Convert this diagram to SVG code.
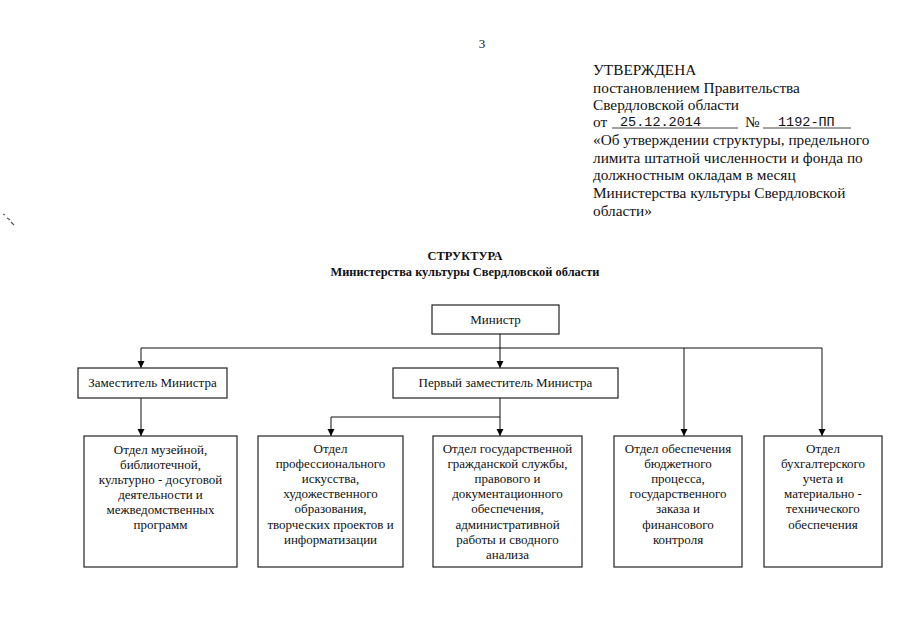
<svg xmlns="http://www.w3.org/2000/svg" width="905" height="640" viewBox="0 0 905 640">
<defs>
<marker id="arr" markerWidth="8" markerHeight="8" refX="7" refY="3.5" orient="auto" markerUnits="userSpaceOnUse">
<path d="M0,0 L7,3.5 L0,7 Z" fill="#000"/>
</marker>
<style>
text{font-family:"Liberation Serif","Times New Roman",serif;fill:#111}
.hdr{font-size:15.3px}
.mono{font-family:"Liberation Mono","Courier New",monospace;font-size:13.5px}
.ttl{font-size:12.4px;font-weight:bold;text-anchor:middle}
.bt{font-size:13px;text-anchor:middle}
.box{fill:#fff;stroke:#222;stroke-width:1.2}
.ln{fill:none;stroke:#111;stroke-width:1}
.ul{stroke:#444;stroke-width:1}
</style>
</defs>
<rect width="905" height="640" fill="#fff"/>
<text x="482" y="48" style="font-size:13px" text-anchor="middle">3</text>
<path d="M3,214 l2,1 M7,218 l3,2 M11,222 l3,3" stroke="#555" stroke-width="1.2"/>
<g id="header">
<text class="hdr" x="593" y="75">УТВЕРЖДЕНА</text>
<text class="hdr" x="593" y="93">постановлением Правительства</text>
<text class="hdr" x="593" y="110">Свердловской области</text>
<text class="hdr" x="593" y="127">от</text>
<line class="ul" x1="612" y1="128" x2="738" y2="128"/>
<text class="mono" x="620" y="126">25.12.2014</text>
<text class="hdr" x="745" y="127">№</text>
<line class="ul" x1="763" y1="128" x2="851" y2="128"/>
<text class="mono" x="778" y="126">1192-ПП</text>
<text class="hdr" x="593" y="145">«Об утверждении структуры, предельного</text>
<text class="hdr" x="593" y="163">лимита штатной численности и фонда по</text>
<text class="hdr" x="593" y="180">должностным окладам в месяц</text>
<text class="hdr" x="593" y="198">Министерства культуры Свердловской</text>
<text class="hdr" x="593" y="216">области»</text>
</g>
<g id="title">
<text class="ttl" x="465" y="260">СТРУКТУРА</text>
<text class="ttl" x="465" y="276">Министерства культуры Свердловской области</text>
</g>
<g id="connectors">
<polyline class="ln" points="500,334 500,348"/>
<polyline class="ln" points="141,348 822,348"/>
<line class="ln" x1="141" y1="348" x2="141" y2="368" marker-end="url(#arr)"/>
<line class="ln" x1="500" y1="348" x2="500" y2="368" marker-end="url(#arr)"/>
<line class="ln" x1="684" y1="348" x2="684" y2="436" marker-end="url(#arr)"/>
<line class="ln" x1="822" y1="348" x2="822" y2="436" marker-end="url(#arr)"/>
<line class="ln" x1="141" y1="398" x2="141" y2="436" marker-end="url(#arr)"/>
<polyline class="ln" points="500,398 500,417 331,417"/>
<line class="ln" x1="500" y1="417" x2="500" y2="436" marker-end="url(#arr)"/>
<line class="ln" x1="331" y1="417" x2="331" y2="436" marker-end="url(#arr)"/>
</g>
<g id="minister">
<rect class="box" x="432" y="305" width="127" height="29"/>
<text class="bt" x="495.5" y="324">Министр</text>
</g>
<g id="deputy">
<rect class="box" x="78" y="368" width="149" height="30"/>
<text class="bt" x="152.5" y="387">Заместитель Министра</text>
</g>
<g id="first-deputy">
<rect class="box" x="393" y="368" width="225" height="30"/>
<text class="bt" x="505.5" y="387">Первый заместитель Министра</text>
</g>
<g id="dept1">
<rect class="box" x="84" y="436" width="153" height="131"/>
<text class="bt" x="160.5" y="454"><tspan x="160.5">Отдел музейной,</tspan><tspan x="160.5" dy="15">библиотечной,</tspan><tspan x="160.5" dy="15">культурно - досуговой</tspan><tspan x="160.5" dy="15">деятельности и</tspan><tspan x="160.5" dy="15">межведомственных</tspan><tspan x="160.5" dy="15">программ</tspan></text>
</g>
<g id="dept2">
<rect class="box" x="258" y="436" width="145" height="131"/>
<text class="bt" x="330.5" y="453"><tspan x="330.5">Отдел</tspan><tspan x="330.5" dy="15.1">профессионального</tspan><tspan x="330.5" dy="15.1">искусства,</tspan><tspan x="330.5" dy="15.1">художественного</tspan><tspan x="330.5" dy="15.1">образования,</tspan><tspan x="330.5" dy="15.1">творческих проектов и</tspan><tspan x="330.5" dy="15.1">информатизации</tspan></text>
</g>
<g id="dept3">
<rect class="box" x="433" y="436" width="149" height="131"/>
<text class="bt" x="507.5" y="453"><tspan x="507.5">Отдел государственной</tspan><tspan x="507.5" dy="15.1">гражданской службы,</tspan><tspan x="507.5" dy="15.1">правового и</tspan><tspan x="507.5" dy="15.1">документационного</tspan><tspan x="507.5" dy="15.1">обеспечения,</tspan><tspan x="507.5" dy="15.1">административной</tspan><tspan x="507.5" dy="15.1">работы и сводного</tspan><tspan x="507.5" dy="15.1">анализа</tspan></text>
</g>
<g id="dept4">
<rect class="box" x="614" y="436" width="128" height="131"/>
<text class="bt" x="678" y="453"><tspan x="678">Отдел обеспечения</tspan><tspan x="678" dy="15.1">бюджетного</tspan><tspan x="678" dy="15.1">процесса,</tspan><tspan x="678" dy="15.1">государственного</tspan><tspan x="678" dy="15.1">заказа и</tspan><tspan x="678" dy="15.1">финансового</tspan><tspan x="678" dy="15.1">контроля</tspan></text>
</g>
<g id="dept5">
<rect class="box" x="764" y="436" width="118" height="131"/>
<text class="bt" x="823" y="453"><tspan x="823">Отдел</tspan><tspan x="823" dy="15.1">бухгалтерского</tspan><tspan x="823" dy="15.1">учета и</tspan><tspan x="823" dy="15.1">материально -</tspan><tspan x="823" dy="15.1">технического</tspan><tspan x="823" dy="15.1">обеспечения</tspan></text>
</g>
</svg>
